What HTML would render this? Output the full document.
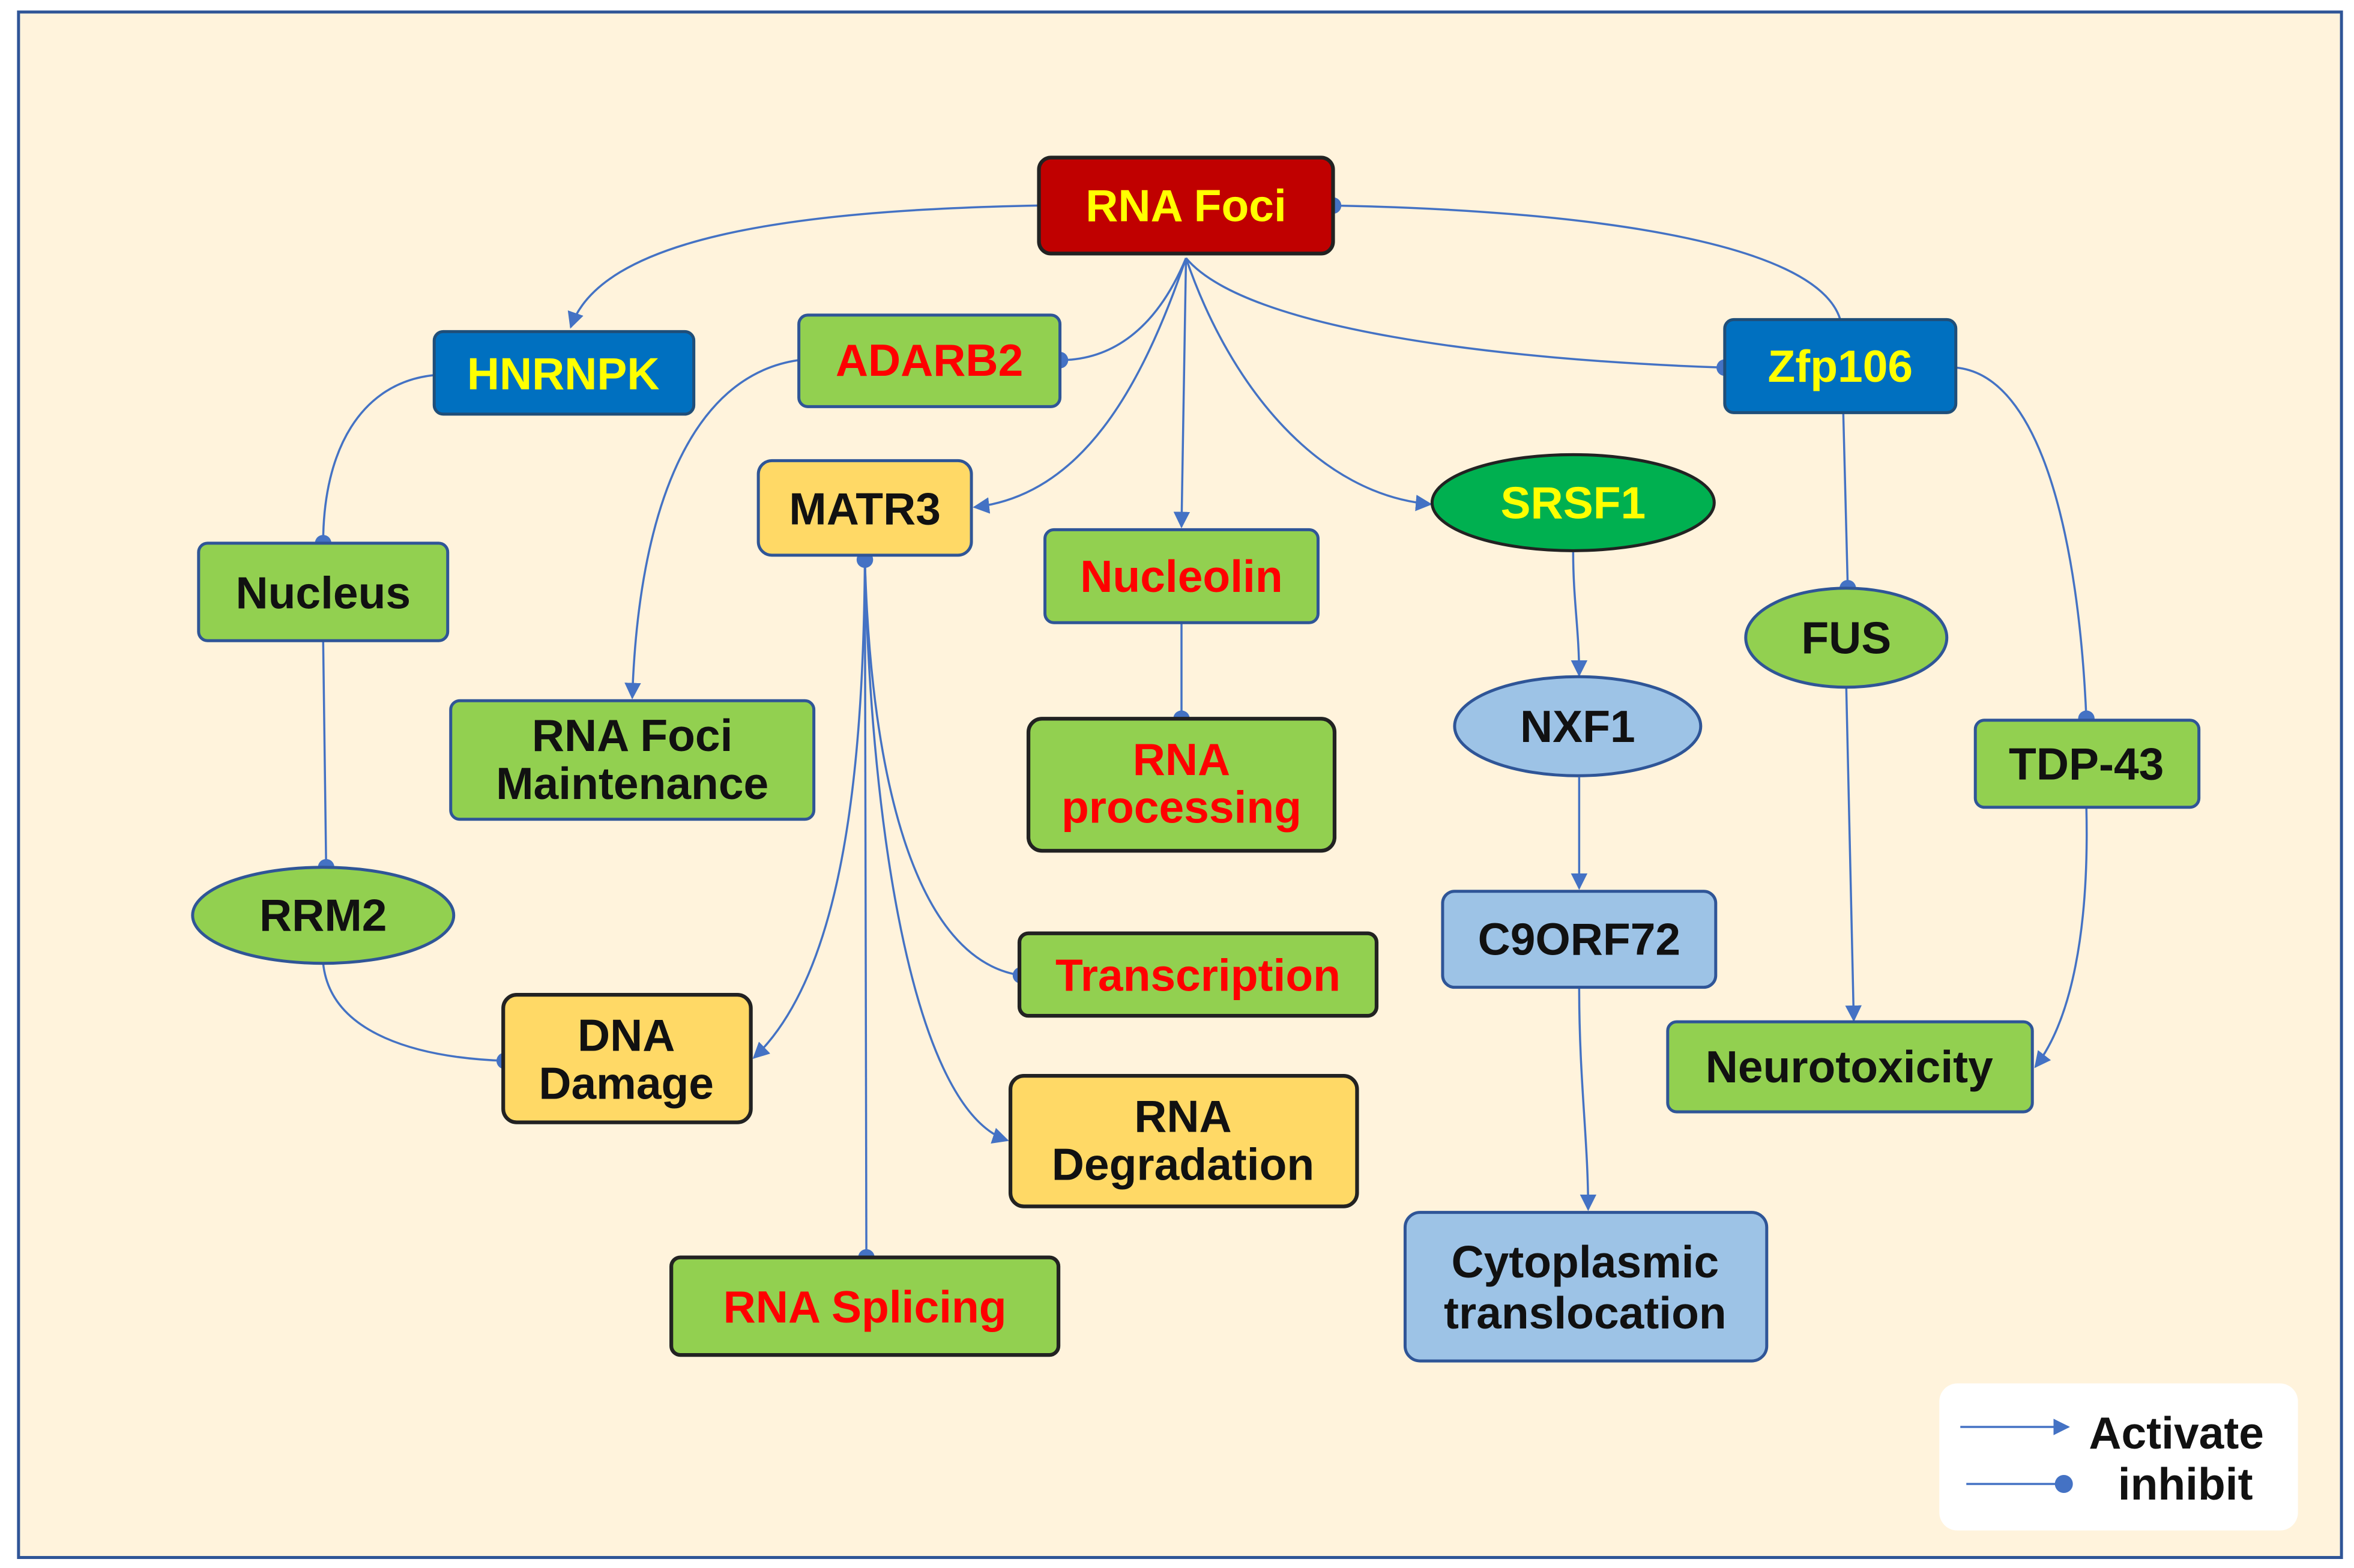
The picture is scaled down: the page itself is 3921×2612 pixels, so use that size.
<!DOCTYPE html>
<html><head><meta charset="utf-8"><style>
html,body{margin:0;padding:0;background:#fff;}
svg{display:block;}
text{font-family:"Liberation Sans",Arial,sans-serif;font-weight:bold;font-size:30px;text-anchor:middle;dominant-baseline:central;}
</style></head><body>
<svg width="3921" height="2612" viewBox="0 0 1568 1045" xmlns="http://www.w3.org/2000/svg">
<defs>
<marker id="a" viewBox="0 0 10 10" refX="9" refY="5" markerWidth="11" markerHeight="11" orient="auto-start-reverse" markerUnits="userSpaceOnUse"><path d="M0,0L10,5L0,10z" fill="#4472c4"/></marker>
</defs>
<rect x="0" y="0" width="1568" height="1045" fill="#fff"/>
<rect x="12" y="8" width="1548" height="1030" fill="#fff3dc" stroke="#2f5597" stroke-width="2"/>
<g fill="none" stroke="#4472c4" stroke-width="1.4">
<path d="M692,137 C520,140 400,160 380,218" marker-end="url(#a)"/>
<path d="M888,137 C1050,140 1210,160 1226,213"/>
<path d="M790,172 C770,220 740,240 706,240"/>
<path d="M790,172 C760,260 720,330 649,338" marker-end="url(#a)"/>
<path d="M790,172 L787,351" marker-end="url(#a)"/>
<path d="M790,172 C820,260 880,330 953,336" marker-end="url(#a)"/>
<path d="M790,172 C830,220 1000,240 1149,245"/>
<path d="M289,250 C240,255 215,300 215,362"/>
<path d="M532,240 C460,250 425,340 421,465" marker-end="url(#a)"/>
<path d="M215,427 L217,578"/>
<path d="M215,642 C220,690 280,705 336,707"/>
<path d="M576,373 C575,520 560,650 502,705" marker-end="url(#a)"/>
<path d="M576,373 L577,838"/>
<path d="M576,373 C580,520 610,640 680,650"/>
<path d="M576,373 C580,560 610,740 671,760" marker-end="url(#a)"/>
<path d="M787,415 L787,479"/>
<path d="M1048,368 C1048,400 1052,420 1052,450" marker-end="url(#a)"/>
<path d="M1052,518 L1052,592" marker-end="url(#a)"/>
<path d="M1052,658 C1052,720 1058,760 1058,806" marker-end="url(#a)"/>
<path d="M1228,275 L1231,392"/>
<path d="M1230,458 L1235,680" marker-end="url(#a)"/>
<path d="M1303,245 C1360,250 1385,360 1390,479"/>
<path d="M1390,538 C1392,620 1380,680 1356,711" marker-end="url(#a)"/>
</g>
<g fill="#4472c4">
<circle cx="888" cy="137" r="5.5"/><circle cx="706" cy="240" r="5.5"/><circle cx="1149" cy="245" r="5.5"/>
<circle cx="215" cy="362" r="5.5"/><circle cx="217" cy="578" r="5.5"/><circle cx="336" cy="707" r="5.5"/>
<circle cx="576" cy="373" r="5.5"/><circle cx="577" cy="838" r="5.5"/><circle cx="680" cy="650" r="5.5"/>
<circle cx="787" cy="479" r="5.5"/><circle cx="1231" cy="392" r="5.5"/><circle cx="1390" cy="479" r="5.5"/>
</g>
<rect x="692" y="105" width="196" height="64" rx="8" fill="#c00000" stroke="#222" stroke-width="2.5"/>
<text x="790" y="137" fill="#ffff00" font-size="34">RNA Foci</text>
<rect x="289" y="221" width="173" height="55" rx="6" fill="#0070c0" stroke="#1f4e79" stroke-width="2"/>
<text x="375" y="249" fill="#ffff00">HNRNPK</text>
<rect x="532" y="210" width="174" height="61" rx="6" fill="#92d050" stroke="#2f5597" stroke-width="2"/>
<text x="619" y="240" fill="#ff0000">ADARB2</text>
<rect x="1149" y="213" width="154" height="62" rx="6" fill="#0070c0" stroke="#1f4e79" stroke-width="2"/>
<text x="1226" y="244" fill="#ffff00">Zfp106</text>
<rect x="505" y="307" width="142" height="63" rx="9" fill="#ffd966" stroke="#2f5597" stroke-width="2"/>
<text x="576" y="339" fill="#111">MATR3</text>
<rect x="696" y="353" width="182" height="62" rx="6" fill="#92d050" stroke="#2f5597" stroke-width="2"/>
<text x="787" y="384" fill="#ff0000">Nucleolin</text>
<ellipse cx="1048" cy="335" rx="94" ry="32" fill="#00b050" stroke="#222" stroke-width="2"/>
<text x="1048" y="335" fill="#ffff00">SRSF1</text>
<rect x="132" y="362" width="166" height="65" rx="6" fill="#92d050" stroke="#2f5597" stroke-width="2"/>
<text x="215" y="395" fill="#111">Nucleus</text>
<rect x="300" y="467" width="242" height="79" rx="6" fill="#92d050" stroke="#2f5597" stroke-width="2"/>
<text x="421" y="490" fill="#111">RNA Foci</text><text x="421" y="522" fill="#111">Maintenance</text>
<rect x="685" y="479" width="204" height="88" rx="9" fill="#92d050" stroke="#222" stroke-width="2.5"/>
<text x="787" y="506" fill="#ff0000">RNA</text><text x="787" y="538" fill="#ff0000">processing</text>
<ellipse cx="1051" cy="484" rx="82" ry="33" fill="#9dc3e6" stroke="#2f5597" stroke-width="2"/>
<text x="1051" y="484" fill="#111">NXF1</text>
<ellipse cx="1230" cy="425" rx="67" ry="33" fill="#92d050" stroke="#2f5597" stroke-width="2"/>
<text x="1230" y="425" fill="#111">FUS</text>
<rect x="1316" y="480" width="149" height="58" rx="6" fill="#92d050" stroke="#2f5597" stroke-width="2"/>
<text x="1390" y="509" fill="#111">TDP-43</text>
<ellipse cx="215" cy="610" rx="87" ry="32" fill="#92d050" stroke="#2f5597" stroke-width="2"/>
<text x="215" y="610" fill="#111">RRM2</text>
<rect x="961" y="594" width="182" height="64" rx="8" fill="#9dc3e6" stroke="#2f5597" stroke-width="2"/>
<text x="1052" y="626" fill="#111">C9ORF72</text>
<rect x="679" y="622" width="238" height="55" rx="6" fill="#92d050" stroke="#222" stroke-width="2.5"/>
<text x="798" y="650" fill="#ff0000">Transcription</text>
<rect x="335" y="663" width="165" height="85" rx="9" fill="#ffd966" stroke="#222" stroke-width="2.5"/>
<text x="417" y="690" fill="#111">DNA</text><text x="417" y="722" fill="#111">Damage</text>
<rect x="1111" y="681" width="243" height="60" rx="6" fill="#92d050" stroke="#2f5597" stroke-width="2"/>
<text x="1232" y="711" fill="#111">Neurotoxicity</text>
<rect x="673" y="717" width="231" height="87" rx="9" fill="#ffd966" stroke="#222" stroke-width="2.5"/>
<text x="788" y="744" fill="#111">RNA</text><text x="788" y="776" fill="#111">Degradation</text>
<rect x="936" y="808" width="241" height="99" rx="10" fill="#9dc3e6" stroke="#2f5597" stroke-width="2"/>
<text x="1056" y="841" fill="#111">Cytoplasmic</text><text x="1056" y="875" fill="#111">translocation</text>
<rect x="447" y="838" width="258" height="65" rx="6" fill="#92d050" stroke="#222" stroke-width="2.5"/>
<text x="576" y="871" fill="#ff0000">RNA Splicing</text>
<rect x="1292" y="922" width="239" height="98" rx="12" fill="#fff"/>
<line x1="1306" y1="951" x2="1378" y2="951" stroke="#4472c4" stroke-width="1.4" marker-end="url(#a)"/>
<line x1="1310" y1="989" x2="1375" y2="989" stroke="#4472c4" stroke-width="1.4"/>
<circle cx="1375" cy="989" r="6" fill="#4472c4"/>
<text x="1450" y="955" fill="#111" font-size="25">Activate</text>
<text x="1456" y="989" fill="#111" font-size="25">inhibit</text>
</svg>
</body></html>
